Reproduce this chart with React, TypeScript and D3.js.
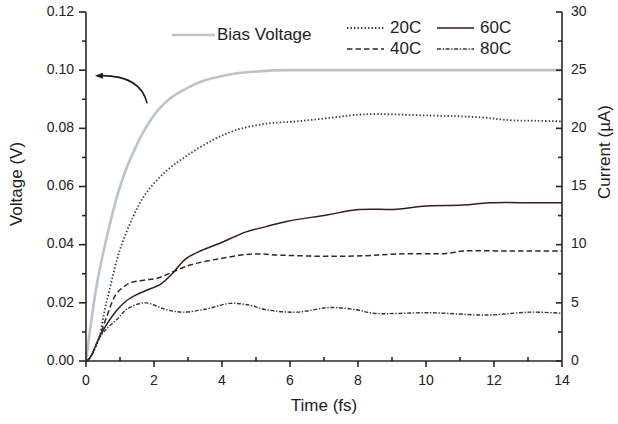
import React from 'react';
import * as d3 from 'd3';

// readings: time in fs, bias in V, currents in µA
const biasTime = [0, 0.1, 0.3, 0.6, 1.0, 1.5, 2.0, 2.5, 3.0, 3.5, 4.0, 4.5, 5.0, 6.0, 7.0, 14];
const biasVolt = [0, 0.009, 0.025, 0.042, 0.06, 0.0745, 0.0845, 0.0905, 0.094, 0.0965, 0.098, 0.099, 0.0995, 0.1, 0.1, 0.1];

const t20 = [0, 0.1, 0.38, 0.53, 0.69, 0.98, 1.37, 1.76, 2.35, 2.94, 3.73, 4.41, 5.29, 6.2, 7.18, 8.16, 10.12, 11.59, 12.47, 13.2, 14];
const i20 = [0, 0.2, 1.95, 4.1, 6.1, 9.4, 12.3, 14.4, 16.3, 17.6, 19, 19.85, 20.4, 20.6, 20.9, 21.2, 21.1, 20.95, 20.7, 20.65, 20.6];

const t40 = [0, 0.1, 0.38, 0.6, 0.9, 1.29, 1.7, 2.08, 2.47, 3.06, 3.94, 4.92, 5.7, 7.08, 8.2, 9.14, 10.6, 11.09, 12.5, 14];
const i40 = [0, 0.2, 1.95, 3.75, 5.8, 6.7, 6.95, 7.1, 7.55, 8.25, 8.8, 9.2, 9.1, 9.0, 9.05, 9.2, 9.25, 9.45, 9.45, 9.45];

const t60 = [0, 0.1, 0.38, 0.6, 0.92, 1.2, 1.49, 1.8, 2.2, 2.55, 2.94, 3.4, 3.92, 4.71, 5.29, 5.9, 7.08, 7.96, 9.14, 9.91, 11.09, 11.88, 13.2, 14];
const i60 = [0, 0.2, 1.95, 3.1, 4.4, 5.2, 5.7, 6.1, 6.6, 7.55, 8.8, 9.5, 10.1, 11.1, 11.55, 12.0, 12.55, 13.0, 13.05, 13.3, 13.4, 13.6, 13.6, 13.6];

const t80 = [0, 0.1, 0.38, 0.6, 0.92, 1.2, 1.74, 2.37, 2.86, 3.5, 4.24, 4.8, 5.31, 6.2, 7.18, 7.96, 8.45, 10.12, 11.78, 13.06, 14];
const i80 = [0, 0.2, 1.9, 2.75, 3.6, 4.45, 5.0, 4.4, 4.2, 4.45, 4.95, 4.8, 4.4, 4.2, 4.6, 4.4, 4.1, 4.15, 3.95, 4.2, 4.1];

const xTicks = [0, 2, 4, 6, 8, 10, 12, 14];
const voltTicks = [0, 0.02, 0.04, 0.06, 0.08, 0.1, 0.12];
const currentTicks = [0, 5, 10, 15, 20, 25, 30];

const W = 618, H = 424;
const left = 86, right = 562, top = 12, bottom = 361;
const font = '"Liberation Sans", Arial, sans-serif';
const axisCol = '#2e2624';

export default function App() {
  const x = d3.scaleLinear().domain([0, 14]).range([left, right]);
  const yV = d3.scaleLinear().domain([0, 0.12]).range([bottom, top]);
  const yI = d3.scaleLinear().domain([0, 30]).range([bottom, top]);

  const lineV = d3.line<number>().x((d, i) => x(biasTime[i])).y(d => yV(d)).curve(d3.curveMonotoneX);
  const lineI = (ts: number[]) =>
    d3.line<number>().x((d, i) => x(ts[i])).y(d => yI(d)).curve(d3.curveCatmullRom.alpha(0.5));

  const series = [
    { ts: t20, vs: i20, color: '#2f3a4c', dash: '1.4 2.1', w: 1.8 },
    { ts: t40, vs: i40, color: '#2e2a2a', dash: '5.5 3', w: 1.5 },
    { ts: t60, vs: i60, color: '#3a1c16', dash: undefined, w: 1.5 },
    { ts: t80, vs: i80, color: '#2c3650', dash: '4 1.6 1.4 1.6', w: 1.4 },
  ];

  const xMinor = d3.range(1, 14, 2);
  const vMinor = d3.range(0.01, 0.12, 0.02);
  const iMinor = d3.range(2.5, 30, 5);

  // arrow from bias curve to left axis
  const arrowPath = `M${x(1.8)},${yV(0.0886)} Q${x(1.59)},${yV(0.0987)} ${x(0.33)},${yV(0.0981)}`;
  const tipX = x(0.29), tipY = yV(0.0981);

  const legend = [
    { label: '20C', lx: 347, ty: 29, s: series[0] },
    { label: '40C', lx: 347, ty: 50, s: series[1] },
    { label: '60C', lx: 437, ty: 29, s: series[2] },
    { label: '80C', lx: 437, ty: 50, s: series[3] },
  ];

  return (
    <svg width={W} height={H} style={{ position: 'absolute', left: 0, top: 0, background: '#fff' }} fontFamily={font}>
      {/* curves */}
      <path d={lineV(biasVolt) || ''} fill="none" stroke="#bcc4cb" strokeWidth={2.6} />
      {series.map((s, k) => (
        <path key={k} d={lineI(s.ts)(s.vs) || ''} fill="none" stroke={s.color} strokeWidth={s.w}
          strokeDasharray={s.dash} />
      ))}

      {/* axes */}
      <g stroke={axisCol} strokeWidth={1.6} fill="none">
        <line x1={left} x2={left} y1={top} y2={bottom} />
        <line x1={right} x2={right} y1={top} y2={bottom} />
        <line x1={left} x2={right} y1={bottom} y2={bottom} />
        {xTicks.map(t => <line key={'xt' + t} x1={x(t)} x2={x(t)} y1={bottom} y2={bottom + 6} />)}
        {xMinor.map(t => <line key={'xm' + t} x1={x(t)} x2={x(t)} y1={bottom} y2={bottom - 4} />)}
        {voltTicks.map(t => <line key={'vt' + t} x1={left - 7} x2={left} y1={yV(t)} y2={yV(t)} />)}
        {vMinor.map(t => <line key={'vm' + t} x1={left - 4} x2={left} y1={yV(t)} y2={yV(t)} />)}
        {currentTicks.map(t => <line key={'it' + t} x1={right - 6} x2={right} y1={yI(t)} y2={yI(t)} />)}
        {iMinor.map(t => <line key={'im' + t} x1={right - 4} x2={right} y1={yI(t)} y2={yI(t)} />)}
      </g>

      <g fontSize={14} fill="#222">
        {xTicks.map(t => (
          <text key={'xl' + t} x={x(t)} y={bottom + 20} dominantBaseline="middle" textAnchor="middle">{t}</text>
        ))}
        {voltTicks.map(t => (
          <text key={'vl' + t} x={left - 12} y={yV(t)} dominantBaseline="middle" textAnchor="end">{t.toFixed(2)}</text>
        ))}
        {currentTicks.map(t => (
          <text key={'il' + t} x={right + 9} y={yI(t)} dominantBaseline="middle" textAnchor="start">{t}</text>
        ))}
      </g>

      <g fontSize={17} fill="#1e1e1e">
        <text x={(left + right) / 2} y={407} textAnchor="middle" dominantBaseline="middle">Time (fs)</text>
        <text transform={`translate(18,184) rotate(-90)`} textAnchor="middle" dominantBaseline="middle">Voltage (V)</text>
        <text transform={`translate(606,152) rotate(-90)`} textAnchor="middle" dominantBaseline="middle">Current (µA)</text>
      </g>

      {/* arrow */}
      <path d={arrowPath} fill="none" stroke="#1c1c1c" strokeWidth={1.6} />
      <path d={`M${tipX - 1},${tipY} L${tipX + 7},${tipY - 3} L${tipX + 7},${tipY + 3} Z`} fill="#1c1c1c" />

      {/* legend */}
      <g fontSize={17} fill="#1e1e1e">
        <line x1={172} x2={215} y1={35} y2={35} stroke="#bcc4cb" strokeWidth={2.6} />
        <text x={217} y={36} dominantBaseline="middle">Bias Voltage</text>
        {legend.map(l => (
          <g key={l.label}>
            <line x1={l.lx} x2={l.lx + 37} y1={l.ty - 1} y2={l.ty - 1} stroke={l.s.color} strokeWidth={l.s.w}
              strokeDasharray={l.s.dash} />
            <text x={l.lx + 43} y={l.ty} dominantBaseline="middle">{l.label}</text>
          </g>
        ))}
      </g>
    </svg>
  );
}
